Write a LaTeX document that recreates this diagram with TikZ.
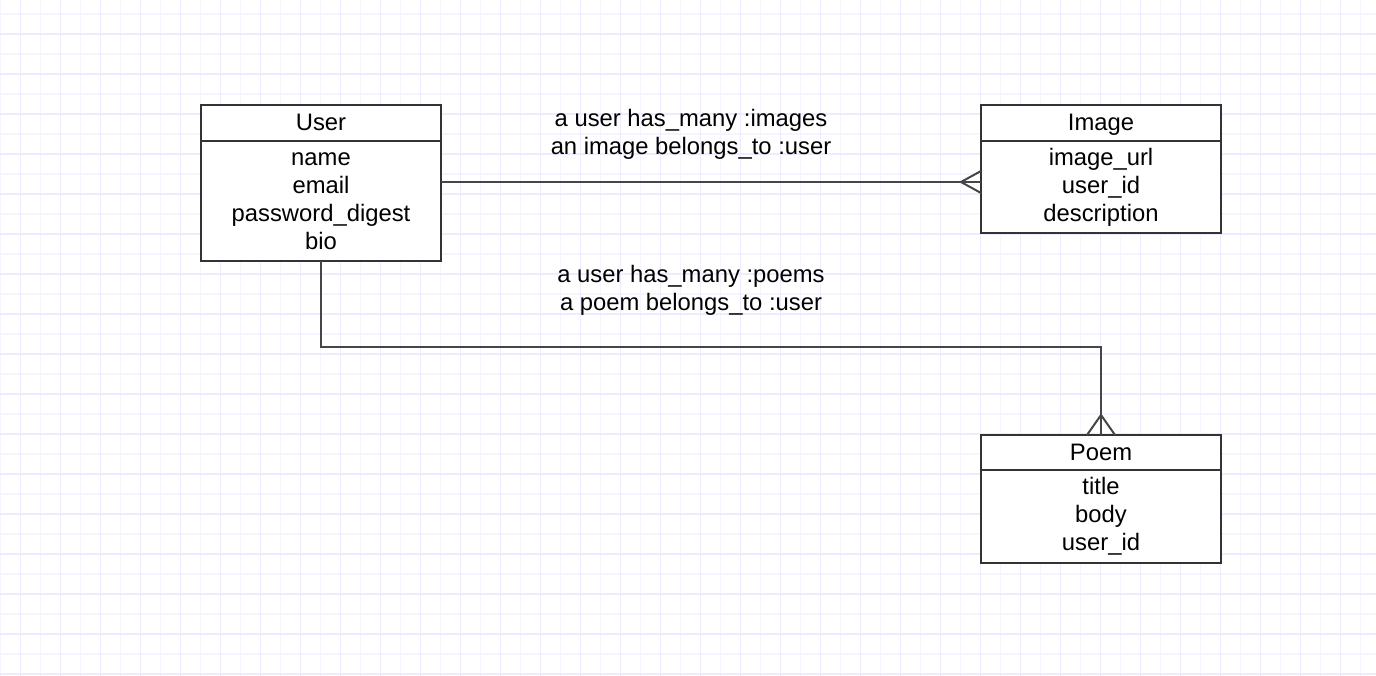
\documentclass[tikz,border=0pt]{standalone}
\usepackage{fontspec}
\setmainfont{Liberation Sans}
\usetikzlibrary{positioning,calc}
\definecolor{gridminor}{RGB}{245,245,255}
\definecolor{gridmajor}{RGB}{236,236,254}
\definecolor{boxline}{RGB}{51,51,51}
\definecolor{relline}{RGB}{70,70,70}
\newcommand{\erfont}{\fontsize{23.8}{28}\selectfont}
\tikzstyle{entityhead}=[draw=boxline, line width=2pt, fill=white, minimum width=240, minimum height=36, inner sep=0pt, outer sep=0pt, text height=19, text depth=4, font=\erfont]
\tikzstyle{entitybody}=[draw=boxline, line width=2pt, fill=white, minimum width=240, minimum height=#1, inner sep=0pt, outer sep=0pt, align=center, font=\erfont]
\tikzstyle{relation}=[draw=relline, line width=2pt]
\tikzstyle{rellabel}=[align=center, font=\erfont, inner sep=0pt]
\newcommand{\manyEnd}[3]{
	\draw[relation] #1 -- #2;
	\draw[relation] #1 -- #3;
}

\begin{document}
\begin{tikzpicture}[x=1pt,y=-1pt]
	\useasboundingbox (0,0) rectangle (1376,676);
	\fill[white] (0,0) rectangle (1376,676);
	% grid
	\foreach \gx in {0.7,20.7,...,1376} {\draw[gridminor, line width=1.5pt] (\gx,0) -- (\gx,676);}
	\foreach \gy in {14,34,...,676} {\draw[gridminor, line width=1.5pt] (0,\gy) -- (1376,\gy);}
	\foreach \gx in {20.7,60.7,...,1376} {\draw[gridmajor, line width=1.5pt] (\gx,0) -- (\gx,676);}
	\foreach \gy in {34,74,...,676} {\draw[gridmajor, line width=1.5pt] (0,\gy) -- (1376,\gy);}

	% entities
	\node[entityhead] (userhead) at (321,123) {User};
	\node[entitybody=120, below=0pt of userhead] (userbody) {name\\email\\password\_digest\\bio};
	\node[entityhead] (imghead) at (1101,123) {Image};
	\node[entitybody=92, below=0pt of imghead] (imgbody) {image\_url\\user\_id\\description};
	\node[entityhead, minimum height=35] (poemhead) at (1101,452.5) {Poem};
	\node[entitybody=93, below=0pt of poemhead] (poembody) {title\\body\\user\_id};

	% relations
	\coordinate (imgfoot) at ([yshift=5pt]imgbody.west);
	\draw[relation] (imgfoot -| userbody.east) -- (imgfoot);
	\manyEnd{($(imgfoot)+(-20,0)$)}{($(imgfoot)+(0,-11)$)}{($(imgfoot)+(0,11)$)}
	\coordinate (poembend) at (userbody.south |- 0,347);
	\draw[relation] (userbody.south) -- (poembend) -| (poemhead.north);
	\manyEnd{($(poemhead.north)+(0,-20)$)}{($(poemhead.north)+(-14,0)$)}{($(poemhead.north)+(14,0)$)}

	\node[rellabel] (imglabel) at (691,134) {a user has\_many :images\\an image belongs\_to :user};
	\node[rellabel] (poemlabel) at (691,290) {a user has\_many :poems\\a poem belongs\_to :user};
\end{tikzpicture}
\end{document}
